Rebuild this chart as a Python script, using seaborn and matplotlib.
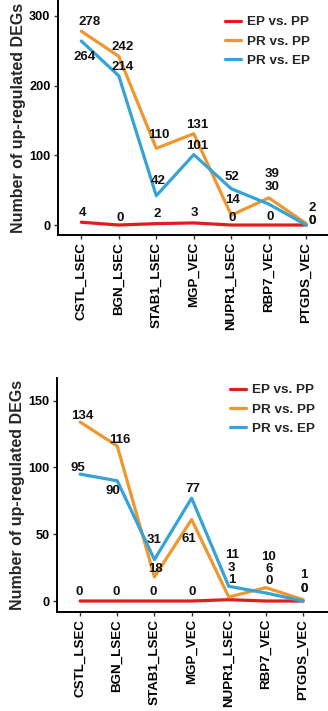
import matplotlib
matplotlib.use("Agg")
import matplotlib.pyplot as plt
import seaborn as sns
import pandas as pd

categories = ["CSTL_LSEC", "BGN_LSEC", "STAB1_LSEC", "MGP_VEC", "NUPR1_LSEC", "RBP7_VEC", "PTGDS_VEC"]
series_names = ["EP vs. PP", "PR vs. PP", "PR vs. EP"]

top_ep_pp = [4, 0, 2, 3, 0, 0, 0]
top_pr_pp = [278, 242, 110, 131, 14, 39, 2]
top_pr_ep = [264, 214, 42, 101, 52, 30, 0]

bot_ep_pp = [0, 0, 0, 0, 1, 0, 0]
bot_pr_pp = [134, 116, 18, 61, 3, 10, 1]
bot_pr_ep = [95, 90, 31, 77, 11, 6, 0]

top_yticks = [0, 100, 200, 300]
bot_yticks = [0, 50, 100, 150]

colors = {"EP vs. PP": "#E41A1C", "PR vs. PP": "#F0962E", "PR vs. EP": "#35A3D8"}

# label offsets in pixels (dx, dy), per series, per category
top_offsets = {
    "EP vs. PP": [(1, 9), (1, 7), (1, 10), (1, 10), (1, 7), (1, 8), (6, 4)],
    "PR vs. PP": [(8, 9), (4, 9), (3, 13), (3, 9), (1, 15), (3, 24), (6, 16)],
    "PR vs. EP": [(3, -16), (4, 9), (2, 15), (3, 9), (1, 12), (3, 17), (6, 4)],
}
bot_offsets = {
    "EP vs. PP": [(-1, 9), (-1, 9), (-1, 9), (1, 9), (3, 20), (3, 20), (1, 12)],
    "PR vs. PP": [(2, 6), (3, 6), (1, 8), (-3, -19), (3, 29), (3, 31), (1, 25)],
    "PR vs. EP": [(-2, 6), (-4, -10), (0, 20), (1, 9), (3, 31), (3, 24), (1, 12)],
}

sns.set_theme(style="ticks")
plt.rcParams["font.family"] = ["Liberation Sans", "DejaVu Sans"]
plt.rcParams["font.weight"] = "bold"

fig = plt.figure(figsize=(3.28, 7.11), dpi=100)
ax1 = fig.add_axes([0.177, 0.6695, 0.823, 0.3305])
ax2 = fig.add_axes([0.174, 0.1392, 0.826, 0.3292])


def make_df(a, b, c):
    rows = []
    for name, vals in zip(series_names, [a, b, c]):
        for cat, v in zip(categories, vals):
            rows.append({"cat": cat, "val": v, "comp": name})
    return pd.DataFrame(rows)


def draw(ax, df, offsets, yticks, ylim, xlim, legend_anchor):
    sns.lineplot(data=df, x="cat", y="val", hue="comp", palette=colors,
                 hue_order=series_names, sort=False, linewidth=2.3, ax=ax)
    for name in series_names:
        sub = df[df["comp"] == name].reset_index(drop=True)
        for i, row in sub.iterrows():
            dx, dy = offsets[name][i]
            ax.annotate(str(row["val"]), (i, row["val"]), xytext=(dx, dy),
                        textcoords="offset pixels", ha="center", va="center",
                        fontsize=9.5, fontweight="bold", color="#111111")
    ax.set_ylim(*ylim)
    ax.set_xlim(*xlim)
    ax.set_yticks(yticks)
    ax.set_xlabel("")
    ax.set_ylabel("Number of up-regulated DEGs", fontsize=11.5, fontweight="bold", labelpad=2)
    for lab in ax.get_xticklabels():
        lab.set_rotation(90)
    ax.tick_params(axis="x", labelsize=9.6, length=3, width=1, pad=2, colors="#333333", labelcolor="black")
    ax.tick_params(axis="y", labelsize=9.2, length=3, width=1, pad=2.5, colors="#333333", labelcolor="black")
    for lab in ax.get_xticklabels() + ax.get_yticklabels():
        lab.set_fontweight("bold")
    sns.despine(ax=ax)
    for s in ["left", "bottom"]:
        ax.spines[s].set_linewidth(1.4)
        ax.spines[s].set_color("black")
    leg = ax.legend(loc="upper left", bbox_to_anchor=legend_anchor, bbox_transform=fig.transFigure,
                    frameon=False, fontsize=9.7, handlelength=1.2, handletextpad=0.45,
                    labelspacing=0.5, borderpad=0, borderaxespad=0)
    for t in leg.get_texts():
        t.set_fontweight("bold")
    for l in leg.get_lines():
        l.set_linewidth(2.3)


draw(ax1, make_df(top_ep_pp, top_pr_pp, top_pr_ep), top_offsets, top_yticks,
     (-14.3, 322.8), (-0.62, 6.58), (225 / 328, 1 - 16 / 711))
draw(ax2, make_df(bot_ep_pp, bot_pr_pp, bot_pr_ep), bot_offsets, bot_yticks,
     (-8.25, 167), (-0.62, 6.67), (230 / 328, 1 - 384 / 711))

fig.savefig("out.png", dpi=100)
